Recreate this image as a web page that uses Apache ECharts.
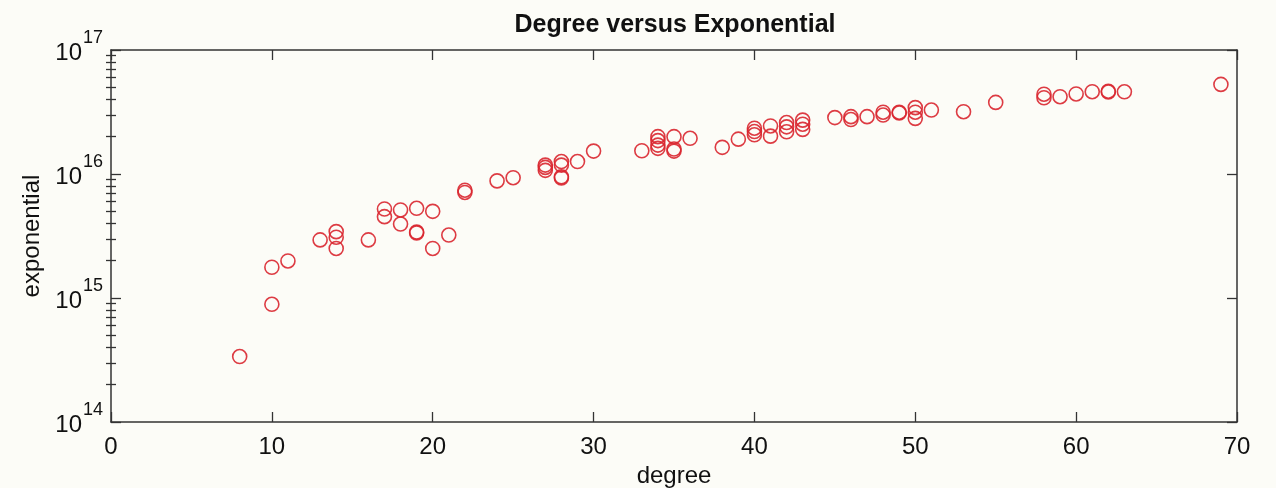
<!DOCTYPE html>
<html>
<head>
<meta charset="utf-8">
<title>Degree versus Exponential</title>
<script src="https://cdn.jsdelivr.net/npm/echarts@6/dist/echarts.min.js"></script>
<style>
  html, body { margin: 0; padding: 0; background: #fcfcf7; }
  #chart { width: 1276px; height: 488px; }
</style>
</head>
<body>
<div id="chart"></div>
<script>
// data
const degree = [
  8, 10, 10, 11, 13, 14, 14, 14, 16, 17, 17, 18, 18, 19, 19, 19, 20, 20, 21, 22, 22,
  24, 25, 27, 27, 27, 28, 28, 28, 28, 29, 30, 33, 34, 34, 34, 34, 35, 35, 35, 36,
  38, 39, 40, 40, 40, 41, 41, 42, 42, 42, 43, 43, 43, 45, 46, 46, 47, 48, 48, 49, 49,
  50, 50, 50, 51, 53, 55, 58, 58, 59, 60, 61, 62, 62, 63, 69
]
const exponential = [
  3.37e14, 8.9e14, 1.77e15, 1.99e15, 2.94e15, 3.43e15, 3.09e15, 2.51e15, 2.94e15, 5.22e15, 4.53e15,
  5.13e15, 3.95e15, 5.29e15, 3.4e15, 3.35e15, 5.0e15, 2.51e15, 3.22e15, 7.4e15, 7.1e15,
  8.8e15, 9.34e15, 1.18e16, 1.13e16, 1.07e16, 1.26e16, 1.18e16, 9.5e15, 9.3e15, 1.26e16, 1.53e16,
  1.54e16, 2.0e16, 1.86e16, 1.71e16, 1.61e16, 2.0e16, 1.59e16, 1.53e16, 1.94e16,
  1.64e16, 1.91e16, 2.34e16, 2.2e16, 2.07e16, 2.44e16, 2.02e16, 2.6e16, 2.4e16, 2.19e16,
  2.72e16, 2.52e16, 2.29e16, 2.85e16, 2.9e16, 2.75e16, 2.9e16, 3.15e16, 2.99e16, 3.15e16, 3.1e16,
  3.43e16, 3.15e16, 2.81e16, 3.28e16, 3.18e16, 3.78e16, 4.4e16, 4.12e16, 4.2e16, 4.42e16,
  4.61e16, 4.65e16, 4.58e16, 4.6e16, 5.28e16
]
const xTicks = [0, 10, 20, 30, 40, 50, 60, 70]
const decades = [14, 15, 16, 17]
const minorSteps = [2, 3, 4, 5, 6, 7, 8, 9]

const font = 'Liberation Sans, Arial, Helvetica, sans-serif'
const axisColor = '#333'
const red = '#d9262f'

// minor tick positions on the log scale (in exponent units)
const minorTicks = []
decades.slice(0, -1).forEach(function (d) {
  minorSteps.forEach(function (k) { minorTicks.push(d + Math.log10(k)) })
})

const points = degree.map(function (d, i) { return [d, exponential[i]] })

const chart = echarts.init(document.getElementById('chart'))

const minorAxis = function (pos) {
  return {
    type: 'value', position: pos, min: decades[0], max: decades[decades.length - 1],
    axisLine: { show: false },
    axisLabel: { show: false },
    splitLine: { show: false },
    axisTick: {
      show: true, inside: true, length: 5, customValues: minorTicks,
      lineStyle: { color: axisColor, width: 1.3 }
    }
  }
}

chart.setOption({
  backgroundColor: '#fcfcf7',
  animation: false,
  title: {
    text: 'Degree versus Exponential',
    left: 670, top: 8, textAlign: 'center',
    textStyle: { fontFamily: font, fontSize: 25, fontWeight: 'bold', color: '#111' }
  },
  grid: { left: 111, right: 39, top: 50, bottom: 66, containLabel: false, outerBoundsMode: 'none' },
  xAxis: [{
    type: 'value', min: xTicks[0], max: xTicks[xTicks.length - 1], interval: 10,
    name: 'degree', nameLocation: 'middle', nameGap: 38,
    nameTextStyle: { fontFamily: font, fontSize: 24, color: '#111' },
    axisLine: { onZero: false, lineStyle: { color: axisColor, width: 1.5 } },
    axisTick: { inside: true, length: 10, lineStyle: { color: axisColor, width: 1.3 } },
    axisLabel: { fontFamily: font, fontSize: 24, color: '#111', margin: 13 },
    splitLine: { show: false }
  }, {
    type: 'value', position: 'top', min: xTicks[0], max: xTicks[xTicks.length - 1], interval: 10,
    axisLine: { onZero: false, lineStyle: { color: axisColor, width: 1.5 } },
    axisTick: { inside: true, length: 10, lineStyle: { color: axisColor, width: 1.3 } },
    axisLabel: { show: false },
    splitLine: { show: false }
  }],
  yAxis: [{
    type: 'log', logBase: 10, min: Math.pow(10, decades[0]), max: Math.pow(10, decades[decades.length - 1]),
    name: 'exponential', nameLocation: 'middle', nameGap: 66,
    nameTextStyle: { fontFamily: font, fontSize: 24, color: '#111' },
    axisLine: { onZero: false, lineStyle: { color: axisColor, width: 1.5 } },
    axisTick: { inside: true, length: 10, lineStyle: { color: axisColor, width: 1.3 } },
    axisLabel: {
      margin: 8,
      padding: [0, 0, 7, 0],
      formatter: function (v) {
        return '{b|10}{s|' + Math.round(Math.log10(v)) + '}'
      },
      rich: {
        b: { fontFamily: font, fontSize: 24, color: '#111', verticalAlign: 'bottom', padding: [0, 0, -2, 0] },
        s: { fontFamily: font, fontSize: 18, color: '#111', verticalAlign: 'bottom', padding: [0, 0, 16, 1] }
      }
    },
    splitLine: { show: false }
  }, {
    type: 'log', logBase: 10, position: 'right',
    min: Math.pow(10, decades[0]), max: Math.pow(10, decades[decades.length - 1]),
    axisLine: { onZero: false, lineStyle: { color: axisColor, width: 1.5 } },
    axisTick: { inside: true, length: 10, lineStyle: { color: axisColor, width: 1.3 } },
    axisLabel: { show: false },
    splitLine: { show: false }
  }, minorAxis('left'), minorAxis('right')],
  series: [{
    type: 'scatter',
    xAxisIndex: 0,
    yAxisIndex: 0,
    data: points,
    symbol: 'circle',
    symbolSize: 14,
    itemStyle: { color: 'transparent', borderColor: red, borderWidth: 1.6, opacity: 0.9 }
  }]
})
</script>
</body>
</html>
